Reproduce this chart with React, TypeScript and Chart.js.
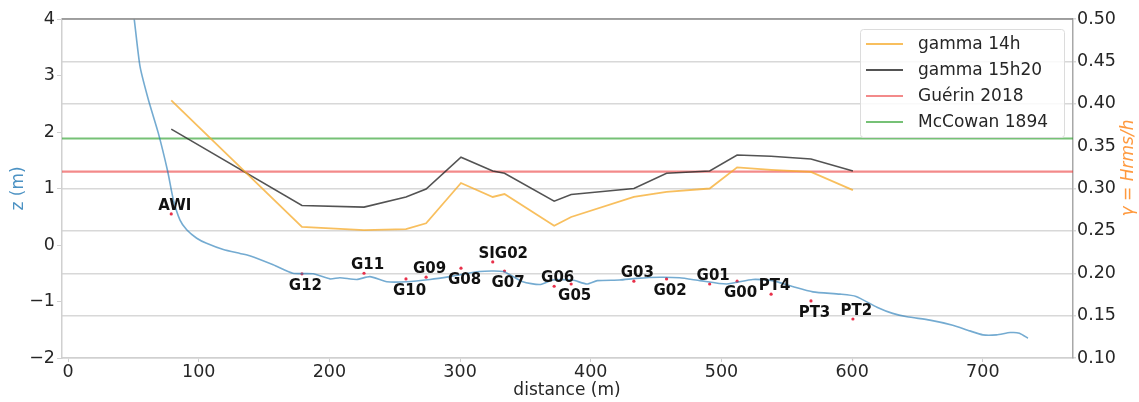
import React, { useEffect, useRef } from "react";
import { Chart, registerables } from "chart.js";

Chart.register(...registerables);

// Bathymetry profile (distance in m, z in m)
const bathyX = [46, 50.7, 55.1, 61.5, 69.1, 76.3, 80.6, 85.7, 90.8, 98.5, 106, 118.8, 131.6, 139, 157, 172, 187.5, 200.5, 208, 221, 231, 244, 259, 277, 292, 315, 333, 348, 361, 371, 386, 397, 405, 422, 435, 453, 468, 483.5, 504, 524, 539, 555, 570, 590.7, 603, 619, 631, 642, 659.5, 677, 690, 700, 710.5, 721, 728, 734.5];
const bathyZ = [4.8, 3.99, 3.16, 2.57, 1.98, 1.3, 0.8, 0.44, 0.27, 0.12, 0.03, -0.08, -0.15, -0.19, -0.35, -0.5, -0.51, -0.6, -0.58, -0.61, -0.56, -0.65, -0.65, -0.61, -0.56, -0.47, -0.47, -0.65, -0.7, -0.62, -0.62, -0.69, -0.63, -0.62, -0.59, -0.57, -0.58, -0.63, -0.69, -0.61, -0.63, -0.74, -0.83, -0.87, -0.91, -1.1, -1.21, -1.27, -1.33, -1.42, -1.52, -1.59, -1.59, -1.55, -1.56, -1.65];

// Sensors
const sensorNames = ["AWI", "G12", "G11", "G10", "G09", "G08", "SIG02", "G07", "G06", "G05", "G03", "G02", "G01", "G00", "PT4", "PT3", "PT2"];
const sensorX = [79, 179, 226.5, 258.6, 274, 300.7, 325, 334, 372, 385, 433, 458, 491, 512, 538, 568.5, 600.6];
const sensorZ = [0.55, -0.51, -0.5, -0.6, -0.57, -0.41, -0.3, -0.46, -0.73, -0.69, -0.64, -0.6, -0.69, -0.64, -0.87, -0.99, -1.31];

// Breaker index gamma = Hrms/h at each sensor
const gamma14h = [0.404, 0.2546, 0.251, 0.252, 0.259, 0.3065, 0.29, 0.2935, 0.256, 0.2664, 0.29, 0.296, 0.3, 0.325, 0.322, 0.3195, 0.298];
const gamma15h20 = [0.37, 0.28, 0.278, 0.29, 0.2994, 0.337, 0.3206, 0.318, 0.285, 0.293, 0.3, 0.318, 0.3206, 0.3395, 0.338, 0.3348, 0.3206];

// Reference values
const guerin2018 = 0.32;
const mccowan1894 = 0.359;

// Axes
const xLimits = [-4.6, 769];
const xTicks = [0, 100, 200, 300, 400, 500, 600, 700];
const zTicks = [-2, -1, 0, 1, 2, 3, 4];
const gammaTicks = [0.1, 0.15, 0.2, 0.25, 0.3, 0.35, 0.4, 0.45, 0.5];

const legendItems = [
  { label: "gamma 14h", color: "rgba(245,170,40,0.75)" },
  { label: "gamma 15h20", color: "rgba(40,40,40,0.8)" },
  { label: "Guérin 2018", color: "rgba(235,60,60,0.6)" },
  { label: "McCowan 1894", color: "rgba(44,160,44,0.65)" },
];

const FONT = '"DejaVu Sans", sans-serif';

const decorPlugin = {
  id: "decor",
  afterDatasetsDraw(chart: any) {
    const { ctx, scales } = chart;
    const xs = scales.x;
    const ys = scales.y;
    ctx.save();
    ctx.font = `bold 15px ${FONT}`;
    ctx.fillStyle = "#111";
    ctx.textAlign = "center";
    ctx.textBaseline = "middle";
    sensorNames.forEach((n, i) => {
      const px = xs.getPixelForValue(sensorX[i]) + 3.5 + (n === "SIG02" ? 7 : 0);
      const py = ys.getPixelForValue(sensorZ[i]) + (i % 2 === 0 ? -8 : 12);
      ctx.fillText(n, px, py);
    });
    ctx.restore();
  },
  afterDraw(chart: any) {
    const { ctx, chartArea } = chart;
    ctx.save();
    // top spine
    ctx.strokeStyle = "#8a8a8a";
    ctx.lineWidth = 1.5;
    ctx.beginPath();
    ctx.moveTo(chartArea.left, chartArea.top);
    ctx.lineTo(chartArea.right, chartArea.top);
    ctx.stroke();

    // legend
    const lx = 860, ly = 29, lw = 204, lh = 108;
    ctx.fillStyle = "rgba(255,255,255,0.85)";
    ctx.strokeStyle = "#dcdcdc";
    ctx.lineWidth = 1;
    ctx.beginPath();
    (ctx as any).roundRect(lx + 0.5, ly + 0.5, lw, lh, 3);
    ctx.fill();
    ctx.stroke();
    ctx.font = `17px ${FONT}`;
    ctx.textAlign = "left";
    ctx.textBaseline = "middle";
    legendItems.forEach((it, i) => {
      const yy = 44 + i * 26;
      ctx.strokeStyle = it.color;
      ctx.lineWidth = 2;
      ctx.beginPath();
      ctx.moveTo(866, yy);
      ctx.lineTo(903, yy);
      ctx.stroke();
      ctx.fillStyle = "#262626";
      ctx.fillText(it.label, 918, yy + 1);
    });

    // axis titles
    ctx.font = `17px ${FONT}`;
    ctx.fillStyle = "#262626";
    ctx.textAlign = "center";
    ctx.fillText("distance (m)", 567, 391);

    ctx.save();
    ctx.translate(19, (chartArea.top + chartArea.bottom) / 2);
    ctx.rotate(-Math.PI / 2);
    ctx.fillStyle = "rgba(31,119,180,0.8)";
    ctx.fillText("z (m)", 0, 0);
    ctx.restore();

    ctx.save();
    ctx.translate(1129, 168);
    ctx.rotate(-Math.PI / 2);
    ctx.font = `italic 17px ${FONT}`;
    ctx.fillStyle = "rgba(255,127,14,0.8)";
    ctx.fillText("γ = Hrms/h", 0, 0);
    ctx.restore();

    ctx.restore();
  },
};

export default function App() {
  const ref = useRef<HTMLCanvasElement | null>(null);

  useEffect(() => {
    if (!ref.current) return;
    const lineAt = (v: number) => [
      { x: xLimits[0], y: v },
      { x: xLimits[1], y: v },
    ];
    const chart = new Chart(ref.current, {
      type: "line",
      data: {
        datasets: [
          {
            label: "bathy",
            data: bathyX.map((x, i) => ({ x, y: bathyZ[i] })),
            yAxisID: "y",
            borderColor: "rgba(31,119,180,0.62)",
            borderWidth: 1.6,
            pointRadius: 0,
            tension: 0.2,
          },
          {
            label: "gamma 14h",
            data: sensorX.map((x, i) => ({ x, y: gamma14h[i] })),
            yAxisID: "y1",
            borderColor: legendItems[0].color,
            borderWidth: 1.8,
            pointRadius: 0,
          },
          {
            label: "gamma 15h20",
            data: sensorX.map((x, i) => ({ x, y: gamma15h20[i] })),
            yAxisID: "y1",
            borderColor: legendItems[1].color,
            borderWidth: 1.6,
            pointRadius: 0,
          },
          {
            label: "Guérin 2018",
            data: lineAt(guerin2018),
            yAxisID: "y1",
            borderColor: legendItems[2].color,
            borderWidth: 2.2,
            pointRadius: 0,
          },
          {
            label: "McCowan 1894",
            data: lineAt(mccowan1894),
            yAxisID: "y1",
            borderColor: legendItems[3].color,
            borderWidth: 2,
            pointRadius: 0,
          },
          {
            type: "scatter" as any,
            label: "sensors",
            data: sensorX.map((x, i) => ({ x, y: sensorZ[i] })),
            yAxisID: "y",
            backgroundColor: "#e8304a",
            borderWidth: 0,
            pointRadius: 1.6,
            showLine: false,
          },
        ],
      },
      options: {
        animation: false,
        responsive: false,
        devicePixelRatio: 1,
        layout: { padding: { top: 19, left: 0, right: 0, bottom: 0 } },
        plugins: { legend: { display: false }, tooltip: { enabled: false }, title: { display: false } },
        scales: {
          x: {
            type: "linear",
            min: xLimits[0],
            max: xLimits[1],
            afterBuildTicks: (s: any) => {
              s.ticks = xTicks.map((v) => ({ value: v }));
            },
            afterFit: (s: any) => {
              s.height = 44;
            },
            grid: { drawOnChartArea: false, drawTicks: true, tickLength: 4, color: "#d0d0d0" },
            border: { color: "#d0d0d0", width: 1.5 },
            ticks: {
              color: "#262626",
              font: { family: FONT, size: 17.5 },
              padding: 0,
              maxRotation: 0,
              autoSkip: false,
              callback: (v: any) => String(v),
            },
          },
          y: {
            type: "linear",
            position: "left",
            min: -2,
            max: 4,
            afterBuildTicks: (s: any) => {
              s.ticks = zTicks.map((v) => ({ value: v }));
            },
            afterFit: (s: any) => {
              s.width = 62;
            },
            grid: { drawOnChartArea: false, drawTicks: true, tickLength: 5, color: "#d0d0d0" },
            border: { color: "#d0d0d0", width: 1.5 },
            ticks: {
              color: "#262626",
              font: { family: FONT, size: 17.5 },
              padding: 2,
              autoSkip: false,
              callback: (v: any) => (v < 0 ? "\u2212" + Math.abs(v) : String(v)),
            },
          },
          y1: {
            type: "linear",
            position: "right",
            min: 0.1,
            max: 0.5,
            afterBuildTicks: (s: any) => {
              s.ticks = gammaTicks.map((v) => ({ value: v }));
            },
            afterFit: (s: any) => {
              s.width = 66;
            },
            grid: {
              drawOnChartArea: true,
              drawTicks: true,
              tickLength: 3,
              lineWidth: 1.5,
              color: (c: any) =>
                c.tick && Math.abs(c.tick.value - 0.35) < 1e-6 ? "rgba(0,0,0,0)" : "#d8d8d8",
            },
            border: { color: "#a8a8a8", width: 1.5 },
            ticks: {
              color: "#262626",
              font: { family: FONT, size: 17.5 },
              padding: 1,
              autoSkip: false,
              callback: (v: any) => Number(v).toFixed(2),
            },
          },
        },
      },
      plugins: [decorPlugin],
    } as any);
    return () => chart.destroy();
  }, []);

  return (
    <div style={{ position: "fixed", left: 0, top: 0, width: 1139, height: 402, background: "#fff" }}>
      <canvas ref={ref} width={1139} height={402} style={{ width: 1139, height: 402, display: "block" }} />
    </div>
  );
}
